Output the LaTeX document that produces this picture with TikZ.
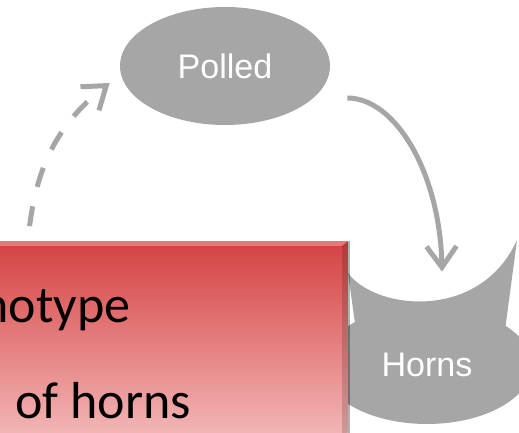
\documentclass[tikz,border=0pt]{standalone}
\usepackage{fontspec}
\usepackage{xcolor}
\usepackage{tikz}
\usetikzlibrary{arrows.meta,shapes.geometric,shadows}
\newfontfamily\labelfont{Liberation Sans}
\newfontfamily\boxfont{Carlito}
\definecolor{cow-gray}{RGB}{166,166,166}
\definecolor{cow-red}{RGB}{213,66,66}
\definecolor{cow-pink}{RGB}{245,192,192}

\begin{document}
\begin{tikzpicture}[
    state/.style={ellipse, fill=cow-gray, text=white, inner sep=0pt,
                  minimum width=4.2cm, minimum height=2.36cm,
                  font=\labelfont\fontsize{19.4}{22}\selectfont},
    barb/.style={line width=0.1cm, cow-gray,
                 -{Straight Barb[length=0.42cm,width=0.6cm]}},
    redbox/.style={rectangle, inner sep=0pt, top color=cow-red,
                   bottom color=cow-pink, minimum width=8cm, minimum height=4.2cm},
    boxtext/.style={inner sep=0pt, font=\boxfont\fontsize{29.6}{34}\selectfont}]
  \useasboundingbox (0,0) rectangle (10.38,8.66);
  % horns on top of the Horns state
  \fill[cow-gray] (6.96,3.20) .. controls (7.50,2.46) and (9.60,2.22) .. (10.34,3.86)
        -- (10.10,2.05) -- (7.12,2.05) -- cycle;
  \node[state] (polled) at (4.50,7.34) {Polled};
  \node[state] (horns)  at (8.54,1.36) {Horns};
  \coordinate (boxout)    at (0.56,3.84);
  \coordinate (polledin)  at ([shift={(-0.20,-0.34)}]polled.west);
  \coordinate (polledout) at ([shift={(0.34,-0.64)}]polled.east);
  \coordinate (hornsin)   at ([shift={(0.30,0.68)}]horns.north);
  \draw[barb, dash pattern=on 0.4cm off 0.4cm, dash phase=0.5cm]
        (boxout) to[out=85, in=218] (polledin);
  \draw[barb] (polledout) .. controls +(0.96,0) and +(-0.04,1.98) .. (hornsin);
  % red box, cut by the page
  \node[redbox, anchor=north east] (box) at (6.96,3.84) {};
  \fill[white, opacity=0.3] (box.north west) -- (box.north east)
        -- ([shift={(-0.12,-0.1)}]box.north east) -- ([yshift=-0.1cm]box.north west) -- cycle;
  \fill[black, opacity=0.15] (box.north east) -- (box.south east)
        -- ([xshift=-0.12cm]box.south east) -- ([shift={(-0.12,-0.1)}]box.north east) -- cycle;
  \draw[black, opacity=0.3, line width=0.04cm] ([xshift=0.02cm]box.north east)
        -- ([xshift=0.02cm]box.south east);
  \node[boxtext, anchor=base west] (line1) at (-0.38,2.20) {notype};
  \node[boxtext, anchor=base west] (line2) at (0.30,0.28) {of horns};
\end{tikzpicture}
\end{document}
